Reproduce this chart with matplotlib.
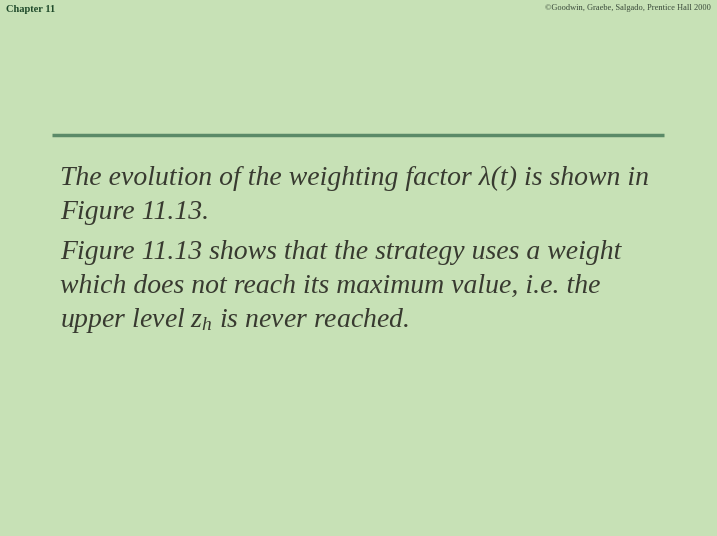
"""Slide: evolution of the weighting factor lambda(t), Chapter 11."""

import matplotlib

matplotlib.use("Agg")
import matplotlib.pyplot as plt  # noqa: E402

plt.rcParams["mathtext.fontset"] = "custom"
plt.rcParams["mathtext.it"] = "Liberation Serif:italic"
plt.rcParams["mathtext.rm"] = "Liberation Serif"

HEADER_LEFT = "Chapter 11"
HEADER_RIGHT = "\u00a9Goodwin, Graebe, Salgado, Prentice Hall 2000"
PARAGRAPHS = [
    ["The evolution of the weighting factor \u03bb(t) is shown in",
     "Figure 11.13."],
    ["Figure 11.13 shows that the strategy uses a weight",
     "which does not reach its maximum value, i.e. the",
     "upper level $z_h$ is never reached."],
]

W, H = 717, 536
BG = "#c7e1b6"
TEXT = "#383a30"
RULE = "#5b8a68"

fig = plt.figure(figsize=(W / 100, H / 100), dpi=100)
fig.patch.set_facecolor(BG)
ax = fig.add_axes([0, 0, 1, 1])
ax.set_xlim(0, W)
ax.set_ylim(H, 0)
ax.axis("off")

ax.text(6, 9, HEADER_LEFT, fontsize=7.5, fontweight="bold", color="#1f4a2a",
        family="Liberation Serif", va="center", ha="left")
ax.text(711, 8, HEADER_RIGHT, fontsize=6, color="#3a4a3a", family="Liberation Serif",
        va="center", ha="right")

ax.plot([52, 664], [135, 135], color=RULE, linewidth=2.5, solid_capstyle="butt")

y = 185
for para in PARAGRAPHS:
    for line in para:
        ax.text(60, y, line, fontsize=20, style="italic", family="Liberation Serif",
                color=TEXT, va="baseline", ha="left")
        y += 34
    y += 6

fig.savefig("out.png", dpi=100, facecolor=BG)
